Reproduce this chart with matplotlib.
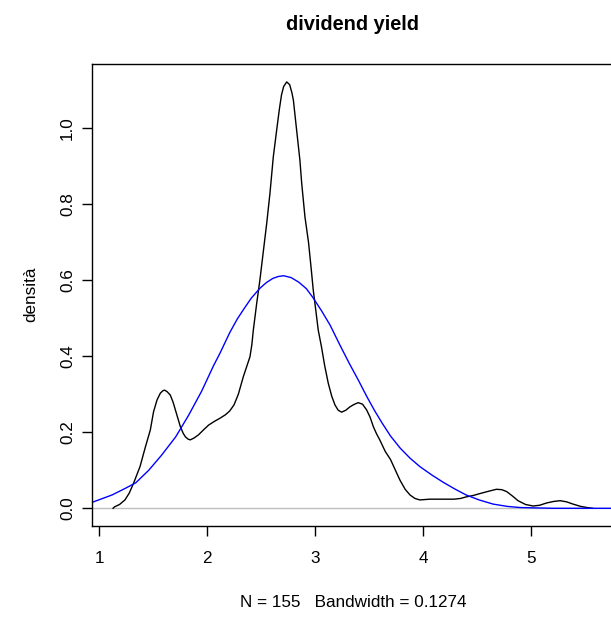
import numpy as np
import matplotlib.pyplot as plt

plt.rcParams['font.family'] = ['Liberation Sans', 'DejaVu Sans']

# kernel density of dividend yield
kde_x = [1.13, 1.145, 1.19, 1.24, 1.28, 1.32, 1.38, 1.43, 1.475, 1.505,
         1.537, 1.568, 1.59, 1.607, 1.63, 1.66, 1.685, 1.707, 1.73, 1.753,
         1.78, 1.80, 1.825, 1.845, 1.88, 1.92, 1.97, 2.015, 2.07, 2.12,
         2.17, 2.21, 2.25, 2.29, 2.336, 2.37, 2.398, 2.415, 2.429, 2.445,
         2.46, 2.49, 2.525, 2.553, 2.583, 2.614, 2.645, 2.67, 2.69, 2.71,
         2.738, 2.765, 2.785, 2.80, 2.83, 2.86, 2.877, 2.907, 2.94, 2.965,
         2.984, 3.008, 3.03, 3.06, 3.09, 3.123, 3.155, 3.185, 3.215, 3.247,
         3.285, 3.324, 3.36, 3.40, 3.44, 3.478, 3.51, 3.54, 3.57, 3.60,
         3.65, 3.70, 3.745, 3.787, 3.835, 3.88, 3.925, 3.97, 4.065, 4.18,
         4.29, 4.35, 4.40, 4.47, 4.53, 4.61, 4.68, 4.73, 4.775, 4.83,
         4.88, 4.95, 5.02, 5.08, 5.145, 5.21, 5.27, 5.33, 5.39, 5.46,
         5.52, 5.57]
kde_y = [0.0, 0.004, 0.01, 0.022, 0.04, 0.066, 0.11, 0.162, 0.206, 0.254,
         0.285, 0.303, 0.309, 0.311, 0.307, 0.298, 0.28, 0.259, 0.237, 0.215,
         0.197, 0.188, 0.182, 0.18, 0.185, 0.193, 0.207, 0.219, 0.229, 0.237,
         0.246, 0.256, 0.272, 0.3, 0.346, 0.375, 0.399, 0.43, 0.469, 0.505,
         0.539, 0.601, 0.684, 0.75, 0.829, 0.925, 0.995, 1.05, 1.088, 1.11,
         1.122, 1.115, 1.095, 1.074, 0.995, 0.917, 0.855, 0.767, 0.70, 0.63,
         0.574, 0.52, 0.469, 0.425, 0.375, 0.329, 0.295, 0.272, 0.258, 0.253,
         0.258, 0.267, 0.273, 0.278, 0.274, 0.259, 0.24, 0.215, 0.196, 0.18,
         0.15, 0.128, 0.1, 0.074, 0.05, 0.035, 0.026, 0.022, 0.024, 0.024,
         0.024, 0.026, 0.03, 0.034, 0.039, 0.045, 0.05, 0.049, 0.044, 0.032,
         0.02, 0.01, 0.006, 0.008, 0.014, 0.018, 0.02, 0.017, 0.011, 0.005,
         0.002, 0.0]

# normal curve overlay
norm_x = [0.93, 1.12, 1.24, 1.34, 1.46, 1.58, 1.71, 1.83, 1.95, 2.06,
          2.12, 2.21, 2.28, 2.34, 2.41, 2.49, 2.55, 2.61, 2.66, 2.71,
          2.78, 2.85, 2.92, 2.98, 3.06, 3.14, 3.23, 3.32, 3.40, 3.48,
          3.55, 3.62, 3.70, 3.79, 3.88, 3.97, 4.08, 4.19, 4.30, 4.40,
          4.52, 4.65, 4.78, 4.90, 5.20, 5.80]
norm_y = [0.015, 0.035, 0.052, 0.067, 0.10, 0.14, 0.188, 0.245, 0.308, 0.375,
          0.408, 0.462, 0.498, 0.524, 0.553, 0.579, 0.594, 0.605, 0.61, 0.612,
          0.607, 0.595, 0.578, 0.555, 0.52, 0.482, 0.43, 0.38, 0.338, 0.294,
          0.258, 0.225, 0.19, 0.158, 0.132, 0.11, 0.088, 0.068, 0.05, 0.035,
          0.022, 0.011, 0.005, 0.002, 0.0, 0.0]

x_ticks = [1, 2, 3, 4, 5]
y_ticks = [0.0, 0.2, 0.4, 0.6, 0.8, 1.0]

W, H = 611, 617
fig = plt.figure(figsize=(W / 100, H / 100), dpi=100)
ax = fig.add_axes([92 / W, (H - 526) / H, (614 - 92) / W, (526 - 63.5) / H])

ax.axhline(0, color='#bebebe', lw=1)
ax.plot(kde_x, kde_y, color='black', lw=1)
ax.plot(norm_x, norm_y, color='blue', lw=1)

ax.set_xlim(0.935, 5.769)
ax.set_ylim(-0.0466, 1.1705)
ax.spines['right'].set_visible(False)
for s in ['left', 'top', 'bottom']:
    ax.spines[s].set_linewidth(1)

ax.set_xticks(x_ticks)
ax.set_xticklabels([str(v) for v in x_ticks])
ax.set_yticks(y_ticks)
ax.set_yticklabels(['%.1f' % v for v in y_ticks], rotation=90, va='center')
ax.tick_params(axis='both', length=7.2, width=1, labelsize=12.3)
ax.tick_params(axis='x', pad=11)
ax.tick_params(axis='y', pad=5)

ax.set_xlabel('N = 155   Bandwidth = 0.1274', fontsize=12.3, labelpad=21)
ax.set_ylabel('densità', fontsize=12.3, labelpad=16)
ax.set_title('dividend yield', fontsize=14.4, fontweight='bold', pad=24)

fig.savefig('out.png', dpi=100)
